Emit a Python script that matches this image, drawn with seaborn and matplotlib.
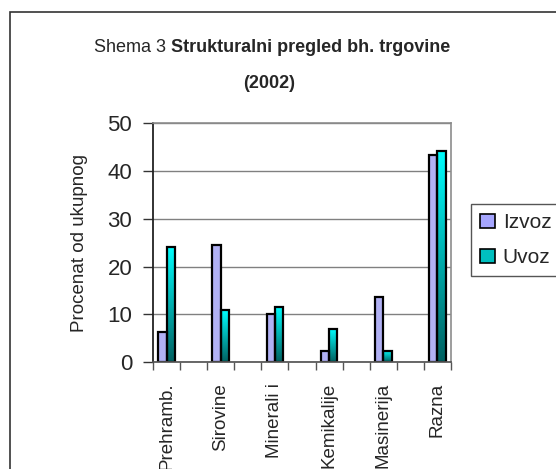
"""Shema 3: structural overview of BiH trade (2002)."""

import matplotlib.pyplot as plt
import numpy as np
import pandas as pd
import seaborn as sns
from matplotlib.colors import LinearSegmentedColormap
from matplotlib.patches import Patch, Rectangle

categories = ["Prehramb.", "Sirovine", "Minerali i", "Kemikalije", "Masinerija", "Razna"]
izvoz = [6.2, 24.5, 10.0, 2.3, 13.6, 43.3]
uvoz = [24.1, 10.8, 11.6, 7.0, 2.4, 44.2]
yticks = [0, 10, 20, 30, 40, 50]

df = pd.DataFrame({
    "Kategorija": categories * 2,
    "Procenat": izvoz + uvoz,
    "Tok": ["Izvoz"] * len(izvoz) + ["Uvoz"] * len(uvoz),
})

sns.set_theme(style="white")
plt.rcParams["font.family"] = ["Liberation Sans", "DejaVu Sans"]

W, H = 556, 469
fig = plt.figure(figsize=(W / 100, H / 100), dpi=100)
ax = fig.add_axes([153 / W, 1 - 362 / H, (451 - 153) / W, (362 - 123.3) / H])

sns.barplot(
    data=df, x="Kategorija", y="Procenat", hue="Tok", order=categories,
    palette={"Izvoz": "#A6A6FF", "Uvoz": "#00CCCC"},
    width=0.31, gap=0, edgecolor="black", linewidth=1.6,
    legend=False, ax=ax, zorder=2,
)

# gradient fill for Uvoz bars
cmap = LinearSegmentedColormap.from_list("uvoz", ["#006060", "#00FFFF"])
grad = np.linspace(0, 1, 256).reshape(-1, 1)
for bar in ax.containers[1]:
    x0, y0 = bar.get_x(), bar.get_y()
    w, h = bar.get_width(), bar.get_height()
    bar.set_facecolor("none")
    im = ax.imshow(grad, cmap=cmap, origin="lower", aspect="auto",
                   extent=[x0, x0 + w, y0, y0 + h], zorder=1.9)
    im.set_clip_path(bar)

ax.set_xlim(-0.25, len(categories) - 0.75)
ax.set_ylim(0, 50)
ax.set_yticks(yticks)
ax.yaxis.grid(True, color="#808080", linewidth=1)
ax.set_axisbelow(True)

ax.set_xticks(range(len(categories)))
ax.set_xticklabels(categories, rotation=90, fontsize=13.5)
ax.set_xticks(np.arange(-0.25, len(categories) - 0.7, 0.5), minor=True)
ax.tick_params(axis="x", which="major", length=0, pad=15)
ax.tick_params(axis="x", which="minor", bottom=True, direction="out",
               length=6, width=1, color="#555555")
ax.tick_params(axis="y", left=True, direction="out", length=7, width=1,
               color="#333333", labelsize=16, pad=8)

ax.set_xlabel("")
ax.set_ylabel("Procenat od ukupnog", fontsize=13.5)
ax.yaxis.set_label_coords(-0.218, 0.5)

ax.spines["left"].set_color("#222222")
ax.spines["left"].set_linewidth(1.3)
ax.spines["bottom"].set_color("#555555")
for s in ["top", "right"]:
    ax.spines[s].set_color("#8c8c8c")
    ax.spines[s].set_linewidth(1.2)

handles = [
    Patch(facecolor="#A6A6FF", edgecolor="black", linewidth=1.2, label="Izvoz"),
    Patch(facecolor="#00BFBF", edgecolor="black", linewidth=1.2, label="Uvoz"),
]
leg = fig.legend(
    handles=handles, loc="upper left", bbox_to_anchor=(471 / W, 1 - 204 / H),
    fontsize=15, frameon=True, fancybox=False, framealpha=1,
    handlelength=0.72, handleheight=0.65, handletextpad=0.35,
    borderpad=0.45, labelspacing=0.75, borderaxespad=0,
)
leg.get_frame().set_edgecolor("#555555")
leg.get_frame().set_linewidth(1)

# title, regular + bold
fig.text(166 / W, 1 - 48 / H, "Shema 3", ha="right", va="center", fontsize=13)
fig.text(171 / W, 1 - 48 / H, "Strukturalni pregled bh. trgovine",
         ha="left", va="center", fontsize=13, fontweight="bold")
fig.text(269 / W, 1 - 83 / H, "(2002)", ha="center", va="center",
         fontsize=13, fontweight="bold")

# chart frame
fig.patches.append(Rectangle((10 / W, -0.1), 1.2, 1 - 12 / H + 0.1,
                             transform=fig.transFigure, fill=False,
                             edgecolor="#333333", linewidth=1.2))

plt.savefig("out.png", dpi=100)
